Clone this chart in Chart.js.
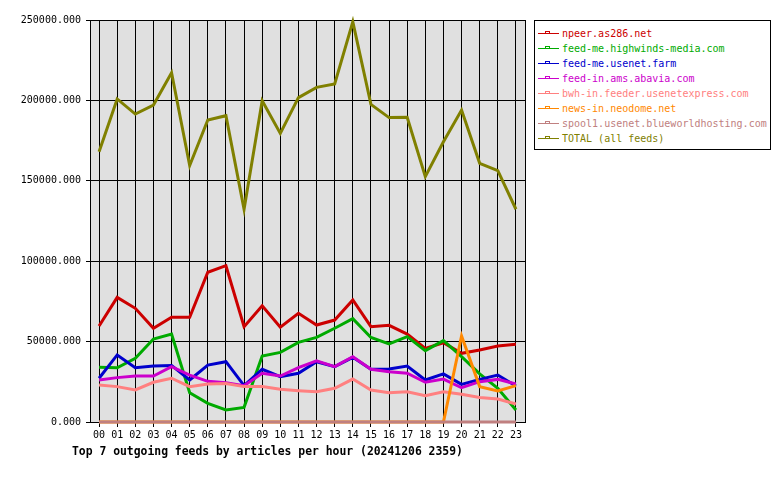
<!DOCTYPE html>
<html>
<head>
<meta charset="utf-8">
<script src="https://cdn.jsdelivr.net/npm/chart.js"></script>
<style>
    body { margin: 0; background: #fff; }
    #wrap { position: relative; width: 780px; height: 480px; }
    #title {
        position: absolute; left: 72px; top: 444px;
        font: bold 11.4px "DejaVu Sans Mono", monospace; color: #000; white-space: pre;
    }
    #legend {
        position: absolute; left: 534px; top: 20px; width: 235px; height: 128px;
        border: 1px solid #000; background: #fff;
        font: 10px "DejaVu Sans Mono", monospace;
    }
    .item { position: absolute; left: 3px; height: 15px; line-height: 15px; white-space: pre; }
    .item svg { position: absolute; left: 0; top: 0; }
    .label { position: absolute; left: 24px; top: 0; }
</style>
</head>
<body>
<div id="wrap">
    <canvas id="chart" width="780" height="480"></canvas>
    <div id="title">Top 7 outgoing feeds by articles per hour (20241206 2359)</div>
    <div id="legend"></div>
</div>
<script>
const hours = ['00', '01', '02', '03', '04', '05', '06', '07', '08', '09', '10', '11',
               '12', '13', '14', '15', '16', '17', '18', '19', '20', '21', '22', '23'];

const feedNames = ['npeer.as286.net', 'feed-me.highwinds-media.com', 'feed-me.usenet.farm',
                   'feed-in.ams.abavia.com', 'bwh-in.feeder.usenetexpress.com', 'news-in.neodome.net',
                   'spool1.usenet.blueworldhosting.com', 'TOTAL (all feeds)'];
const feedColors = ['#cc0000', '#00aa00', '#0000cc', '#cc00cc', '#ff8080', '#ff8800', '#c08080', '#808000'];

const npeer = [59700, 77500, 70700, 58300, 65100, 65100, 93100, 97200, 59300, 72300, 58900, 67600,
               60300, 63400, 75900, 59300, 60100, 54700, 45800, 49300, 42700, 44800, 47300, 48300];
const highwinds = [34000, 33700, 39600, 51600, 54700, 18200, 11600, 7500, 9100, 41000, 43300, 49500,
                   52600, 58300, 64300, 52600, 48500, 53100, 44400, 50600, 40600, 29900, 20900, 7500];
const usenetFarm = [27200, 41700, 33800, 34800, 35200, 26100, 35400, 37500, 22600, 32800, 28200, 30300,
                    37500, 34400, 40200, 32800, 33000, 34800, 26100, 29900, 23400, 26500, 29200, 22400];
const abavia = [26100, 27600, 28600, 28600, 34400, 29200, 25300, 24400, 22600, 30300, 28600, 33800,
                38100, 34400, 40600, 32800, 31300, 30300, 24700, 26700, 21300, 25100, 26500, 23600];
const bwh = [23000, 22000, 19900, 24700, 27200, 22000, 23600, 24000, 22000, 22000, 20300, 19500,
             18800, 21000, 26700, 19900, 18200, 18800, 16400, 18800, 17200, 15300, 14300, 11200];
const neodome = [0, 0, 0, 0, 0, 0, 0, 0, 0, 0, 0, 0,
                 0, 0, 0, 0, 0, 0, 0, 0, 53500, 22000, 19300, 22600];
const spool1 = [0, 0, 0, 0, 0, 0, 0, 0, 0, 0, 0, 0,
                0, 0, 0, 0, 0, 0, 0, 0, 0, 0, 0, 0];
const total = [168100, 200900, 191500, 197100, 217200, 159500, 187800, 190500, 132300, 199800, 179500, 201700,
               208100, 210200, 248800, 197500, 189300, 189500, 152600, 174300, 194000, 160900, 156300, 132300];

const yTicks = [0, 50000, 100000, 150000, 200000, 250000];

document.addEventListener('DOMContentLoaded', function() {
    const series = [npeer, highwinds, usenetFarm, abavia, bwh, neodome, spool1, total];

    // gray plot background + right frame line
    const plotFrame = {
        id: 'plotFrame',
        beforeDraw(chart) {
            const a = chart.chartArea;
            const c = chart.ctx;
            c.save();
            c.fillStyle = '#e0e0e0';
            c.fillRect(a.left, a.top, a.right - a.left, a.bottom - a.top);
            c.restore();
        },
        afterDraw(chart) {
            const a = chart.chartArea;
            const c = chart.ctx;
            c.save();
            c.strokeStyle = '#000';
            c.lineWidth = 1;
            c.beginPath();
            c.moveTo(Math.round(a.right) + 0.5, a.top);
            c.lineTo(Math.round(a.right) + 0.5, a.bottom);
            c.stroke();
            c.restore();
        }
    };

    Chart.defaults.font.family = '"DejaVu Sans Mono", monospace';
    Chart.defaults.font.size = 10;
    Chart.defaults.color = '#000';

    const ctx = document.getElementById('chart').getContext('2d');
    new Chart(ctx, {
        type: 'line',
        data: {
            labels: hours,
            datasets: series.map((values, i) => ({
                label: feedNames[i],
                data: values,
                borderColor: feedColors[i],
                backgroundColor: feedColors[i],
                borderWidth: 3,
                pointRadius: 0,
                tension: 0,
                clip: false,
                order: series.length - i
            }))
        },
        options: {
            responsive: false,
            animation: false,
            layout: { padding: { left: 0, top: 20, right: 255, bottom: 0 } },
            plugins: {
                legend: { display: false },
                tooltip: { enabled: false },
                title: { display: false }
            },
            scales: {
                x: {
                    offset: true,
                    grid: { offset: false, color: '#000', lineWidth: 1, tickLength: 5 },
                    border: { color: '#000', width: 1 },
                    ticks: { padding: 2, maxRotation: 0, autoSkip: false },
                    afterFit(scale) { scale.height = 58; }
                },
                y: {
                    min: 0,
                    max: 250000,
                    afterBuildTicks(scale) { scale.ticks = yTicks.map(v => ({ value: v })); },
                    grid: { color: '#000', lineWidth: 1, tickLength: 4 },
                    border: { color: '#000', width: 1 },
                    ticks: { padding: 5, callback: v => Number(v).toFixed(3) },
                    afterFit(scale) { scale.width = 90; }
                }
            }
        },
        plugins: [plotFrame]
    });

    // legend: short line with a small box, then the feed name
    const legend = document.getElementById('legend');
    feedNames.forEach((name, i) => {
        const col = feedColors[i];
        const item = document.createElement('div');
        item.className = 'item';
        item.style.top = (5 + i * 15) + 'px';
        item.innerHTML =
            '<svg width="22" height="15" shape-rendering="crispEdges">' +
            '<line x1="0" y1="7.5" x2="21" y2="7.5" stroke="' + col + '" stroke-width="1"/>' +
            '<rect x="7.5" y="5.5" width="4" height="2" fill="none" stroke="' + col + '" stroke-width="1"/>' +
            '</svg><span class="label" style="color:' + col + '"></span>';
        item.querySelector('.label').textContent = name;
        legend.appendChild(item);
    });
});
</script>
</body>
</html>
